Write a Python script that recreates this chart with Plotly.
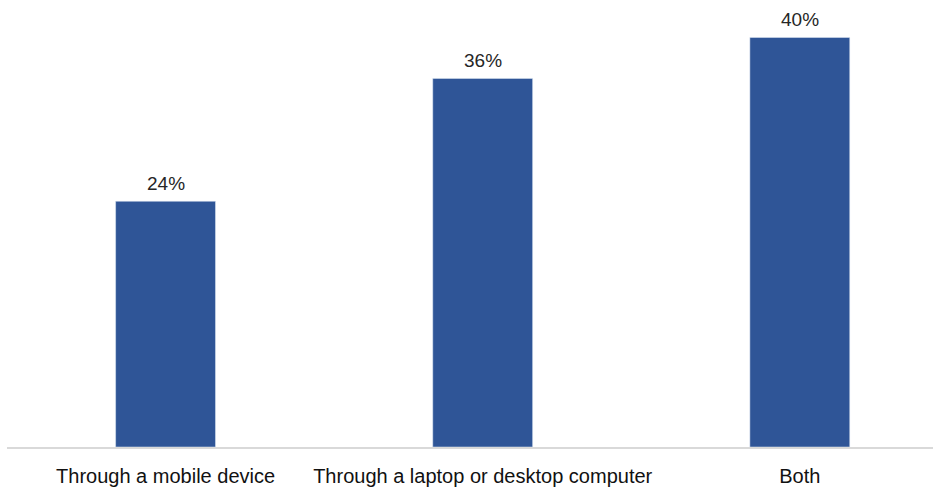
import plotly.graph_objects as go

categories = ["Through a mobile device", "Through a laptop or desktop computer", "Both"]
values = [24, 36, 40]
labels = ["24%", "36%", "40%"]

fig = go.Figure(go.Bar(
    x=categories, y=values,
    marker_color="#2F5597", width=0.315,
))
for c, v, t in zip(categories, values, labels):
    fig.add_annotation(x=c, y=v, text=t, showarrow=False, yanchor="bottom", yshift=5,
                       font=dict(family="Liberation Sans", size=19, color="#262626"))
fig.update_layout(
    width=933, height=487,
    margin=dict(l=7, r=0, t=0, b=36),
    plot_bgcolor="white", paper_bgcolor="white",
    showlegend=False,
    xaxis=dict(range=[-0.5, 2.42], showline=True, linecolor="#d9d9d9", linewidth=1.5,
               ticks="", ticklabelstandoff=10,
               tickfont=dict(family="Liberation Sans Narrow, Arial Narrow, Liberation Sans, sans-serif", size=20, color="#111111")),
    yaxis=dict(range=[0, 43.66], visible=False, showgrid=False),
)
fig.write_html("out.html", config={"displayModeBar": False},
               post_script="document.body.style.margin='0';document.body.style.overflow='hidden';")
